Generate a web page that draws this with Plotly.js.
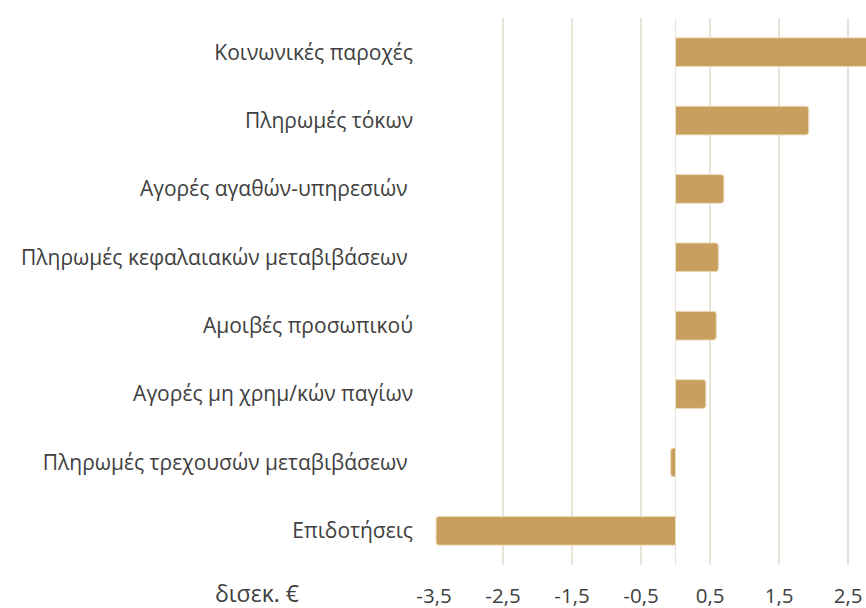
<!DOCTYPE html>
<html>
<head>
<meta charset="utf-8">
<script src="https://cdn.plot.ly/plotly-3.0.1.min.js"></script>
<style>html,body{margin:0;padding:0;background:#fff;}#chart{width:866px;height:608px;}</style>
</head>
<body>
<div id="chart"></div>
<script>
const categories = [
  "Κοινωνικές παροχές",
  "Πληρωμές τόκων",
  "Αγορές αγαθών-υπηρεσιών\u00a0",
  "Πληρωμές κεφαλαιακών μεταβιβάσεων\u00a0",
  "Αμοιβές προσωπικού",
  "Αγορές μη χρημ/κών παγίων",
  "Πληρωμές τρεχουσών μεταβιβάσεων\u00a0",
  "Επιδοτήσεις"
];
const values = [3.1, 1.93, 0.70, 0.62, 0.59, 0.44, -0.07, -3.47];
const tickValues = [-3.5, -2.5, -1.5, -0.5, 0.5, 1.5, 2.5];
const unitLabel = "δισεκ. €";

const font = {family: "Open Sans, Noto Sans, sans-serif", size: 21, color: "#404040"};

const trace = {
  type: "bar",
  orientation: "h",
  x: values,
  y: categories,
  width: 0.42,
  marker: {color: "#c89f5e", line: {color: "#ecdcbc", width: 1}, cornerradius: 3},
  hoverinfo: "skip"
};

const layout = {
  width: 866, height: 608,
  margin: {l: 434, r: 0, t: 18, b: 43},
  paper_bgcolor: "#ffffff", plot_bgcolor: "#ffffff",
  font: font,
  separators: ",.",
  showlegend: false,
  xaxis: {
    range: [-3.5, 2.76],
    tickvals: tickValues,
    ticktext: tickValues.map(v => String(v).replace(".", ",")),
    showgrid: true, gridcolor: "#e8e4da", gridwidth: 1.5,
    zeroline: true, zerolinecolor: "#e8e4da", zerolinewidth: 1.5,
    showline: false, ticks: "",
    ticklabelstandoff: 16,
    tickfont: {family: font.family, size: 20.5, color: font.color},
    fixedrange: true
  },
  yaxis: {
    type: "category",
    categoryorder: "array", categoryarray: categories,
    autorange: "reversed",
    showgrid: false, zeroline: false, showline: false, ticks: "",
    ticklabelstandoff: 20,
    tickfont: font,
    fixedrange: true
  },
  annotations: [{
    text: unitLabel, xref: "paper", yref: "paper",
    x: -0.41, y: 0, xanchor: "center", yanchor: "middle", yshift: -28,
    showarrow: false, font: {family: font.family, size: 23, color: font.color}
  }]
};

Plotly.newPlot("chart", [trace], layout, {displayModeBar: false, staticPlot: true});
</script>
</body>
</html>
